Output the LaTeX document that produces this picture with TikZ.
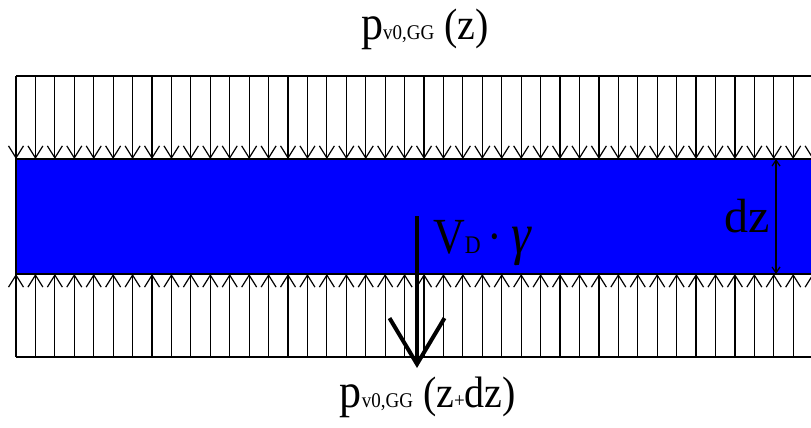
\documentclass[tikz,border=0pt]{standalone}
\usepackage{fontspec}
\setmainfont{Liberation Serif}
\usetikzlibrary{arrows.meta}

\tikzset{
    load/.style={line width=1.2pt, -{Straight Barb[length=12pt, width=15pt]}}
}
\newcommand{\bigp}{{\fontsize{44}{44}\selectfont p}}
\newcommand{\subvg}{{\fontsize{19}{19}\selectfont v0,GG}}

\begin{document}
\begin{tikzpicture}[x=1pt, y=-1pt]
    \useasboundingbox (0,0) rectangle (811,428);
    \clip (0,0) rectangle (811,428);

    % Add the soil layer
    \filldraw[fill=blue, draw=black, line width=1.2pt] (16,159) rectangle (830,274);

    % Add the upper and lower load lines
    \draw[line width=1.2pt] (16,76) -- (830,76);
    \draw[line width=1.2pt] (16,357) -- (830,357);

    % Add the pressure arrows from above and below
    \foreach \i in {0,...,41} {
        \draw[load] (16+19.43*\i,76) -- (16+19.43*\i,159);
        \draw[load] (16+19.43*\i,357) -- (16+19.43*\i,274);
    }

    % Add the weight of the layer
    \coordinate (wtop) at (417,216);
    \coordinate (wtip) at (417,368);
    \draw[line width=4pt, -{Straight Barb[length=46pt, width=55pt]}] (wtop) -- (wtip);
    \node[anchor=base west, inner sep=0pt] (weight) at (433,253)
        {\scalebox{1}[1.15]{\fontsize{44}{44}\selectfont V{\fontsize{22}{22}\selectfont D}\hspace{7pt}·\hspace{9pt}{\fontsize{50}{50}\selectfont\textit{γ}}}};

    % Add the thickness dz
    \coordinate (dztop) at (776,159);
    \coordinate (dzbot) at (776,274);
    \draw[line width=1.2pt, {Straight Barb[length=6pt, width=8pt]}-{Straight Barb[length=6pt, width=8pt]}] (dztop) -- (dzbot);
    \node[anchor=base east, inner sep=0pt] (dz) at (770,232) {\fontsize{48}{48}\selectfont dz};

    % Add the pressure labels
    \node[anchor=base, inner sep=0pt] (ptop) at (425,40)
        {\scalebox{1}[1.1]{\bigp\subvg\hspace{10pt}{\fontsize{40}{40}\selectfont (z)}}};
    \node[anchor=base, inner sep=0pt] (pbot) at (428,407)
        {\scalebox{1}[1.1]{\bigp\subvg\hspace{10pt}{\fontsize{40}{40}\selectfont (z}{\fontsize{19}{19}\selectfont +}{\fontsize{40}{40}\selectfont dz)}}};
\end{tikzpicture}
\end{document}
